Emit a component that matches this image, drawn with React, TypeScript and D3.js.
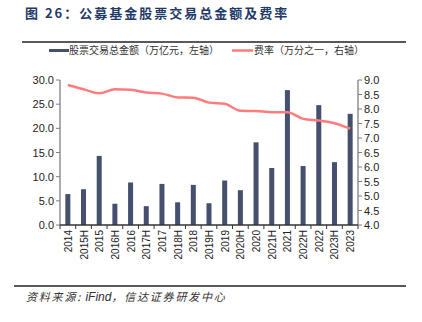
import React from "react";
import * as d3 from "d3";

const categories = ["2014","2015H","2015","2016H","2016","2017H","2017","2018H","2018","2019H","2019","2020H","2020","2021H","2021","2022H","2022","2023H","2023"];
const turnover = [6.4,7.4,14.3,4.4,8.8,3.9,8.5,4.7,8.3,4.5,9.2,7.2,17.1,11.8,27.9,12.2,24.8,13.0,23.0];
const feeRate = [8.83,8.68,8.54,8.68,8.66,8.57,8.53,8.40,8.39,8.22,8.18,7.94,7.93,7.89,7.89,7.66,7.60,7.51,7.32];
const leftTicks = [0,5,10,15,20,25,30];
const rightTicks = [4.0,4.5,5.0,5.5,6.0,6.5,7.0,7.5,8.0,8.5,9.0];

const W = 422, H = 322;
const plotL = 60, plotR = 358, plotT = 80, plotB = 225;

export default function App() {
  const x = d3.scaleBand<string>().domain(categories).range([plotL, plotR]).paddingInner(0).paddingOuter(0);
  const yL = d3.scaleLinear().domain([0, 30]).range([plotB, plotT]);
  const yR = d3.scaleLinear().domain([4, 9]).range([plotB, plotT]);
  const barW = 5;
  const line = d3.line<number>()
    .x((_, i) => (x(categories[i]) as number) + x.bandwidth() / 2)
    .y((d) => yR(d))
    .curve(d3.curveMonotoneX);
  const axisColor = "#7f7f7f";
  const font = "'Liberation Sans', Arial, sans-serif";
  const cjk = "'Noto Sans CJK SC', 'Noto Sans', sans-serif";
  return (
    <svg width={W} height={H} style={{ position: "absolute", left: 0, top: 0, background: "#fff" }}>
      <text x={25} y={18} fontFamily={cjk} fontWeight={700} fontSize={13} letterSpacing={2} fill="#1f3a68">图 26：公募基金股票交易总金额及费率</text>
      <line x1={22} x2={406} y1={42} y2={42} stroke="#222" strokeWidth={1.3} />
      {/* legend */}
      <rect x={49} y={49} width={20} height={3} fill="#44506e" />
      <text x={69} y={54} fontFamily={cjk} fontSize={10} fill="#333">股票交易总金额（万亿元，左轴）</text>
      <line x1={232} x2={253} y1={50.5} y2={50.5} stroke="#ff7c7c" strokeWidth={2.5} />
      <text x={254} y={54} fontFamily={cjk} fontSize={10} fill="#333">费率（万分之一，右轴）</text>
      {/* bars */}
      {turnover.map((v, i) => (
        <rect key={i} x={(x(categories[i]) as number) + x.bandwidth() / 2 - barW / 2} y={yL(v)} width={barW} height={plotB - yL(v)} fill="#44506e" />
      ))}
      {/* line */}
      <path d={line(feeRate) || ""} fill="none" stroke="#ff7c7c" strokeWidth={2.5} />
      {/* left axis */}
      <line x1={plotL} x2={plotL} y1={plotT} y2={plotB} stroke={axisColor} strokeWidth={1.3} />
      {leftTicks.map((t) => (
        <g key={t}>
          <line x1={plotL - 4} x2={plotL} y1={yL(t)} y2={yL(t)} stroke={axisColor} />
          <text x={plotL - 6} y={yL(t) + 4} textAnchor="end" fontFamily={font} fontSize={11} fill="#222">{t.toFixed(1)}</text>
        </g>
      ))}
      {/* right axis */}
      <line x1={plotR} x2={plotR} y1={plotT} y2={plotB} stroke={axisColor} strokeWidth={1.3} />
      {rightTicks.map((t) => (
        <g key={t}>
          <line x1={plotR} x2={plotR + 4} y1={yR(t)} y2={yR(t)} stroke={axisColor} />
          <text x={plotR + 6} y={yR(t) + 4} textAnchor="start" fontFamily={font} fontSize={11} fill="#222">{t.toFixed(1)}</text>
        </g>
      ))}
      {/* x axis */}
      <line x1={plotL} x2={plotR} y1={plotB} y2={plotB} stroke="#333" strokeWidth={1.3} />
      {categories.map((c, i) => (
        <line key={"t" + i} x1={x(c) as number} x2={x(c) as number} y1={plotB} y2={plotB + 4} stroke="#333" />
      ))}
      <line x1={plotR} x2={plotR} y1={plotB} y2={plotB + 4} stroke="#333" />
      {categories.map((c) => {
        const cx = (x(c) as number) + x.bandwidth() / 2;
        return (
          <text key={c} transform={`translate(${cx + 4},${plotB + 5}) rotate(-90)`} textAnchor="end" fontFamily={font} fontSize={10} fill="#222">{c}</text>
        );
      })}
      {/* footer */}
      <line x1={14} x2={406} y1={286} y2={286} stroke="#222" strokeWidth={1.3} />
      <text x={26} y={301} fontFamily={cjk} fontStyle="italic" fontSize={11} fill="#333">
        <tspan letterSpacing={1.8}>资料来源:</tspan>
        <tspan fontFamily={font} fontSize={12}> iFind</tspan>
        <tspan letterSpacing={1.8}>，信达证券研发中心</tspan>
      </text>
    </svg>
  );
}
